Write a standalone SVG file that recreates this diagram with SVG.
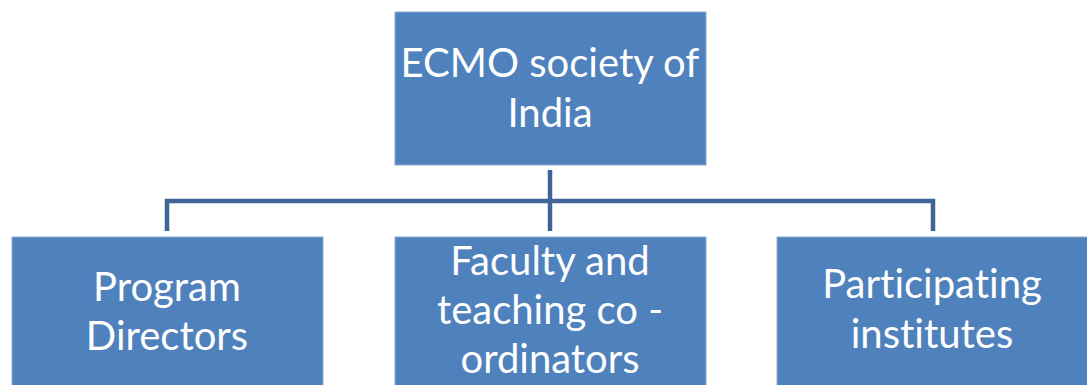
<svg xmlns="http://www.w3.org/2000/svg" width="1087" height="385" viewBox="0 0 1087 385">
<style>
.box{fill:#4F81BD;stroke:#8AA9D4;stroke-width:1}
.t{fill:#FFFFFF;font-family:Lato,"Open Sans","Liberation Sans",sans-serif;font-size:40px;text-anchor:middle;font-variant-ligatures:none;font-feature-settings:"liga" 0}
.c{fill:none;stroke:#3F6597;stroke-width:4.5}
</style>
<rect width="1087" height="385" fill="#FFFFFF"/>
<g id="connectors">
<path class="c" d="M550,170 V231"/>
<path class="c" d="M167,231 V201 H933 V231"/>
</g>
<g id="n0">
<rect class="box" x="395" y="12" width="311" height="153"/>
<text class="t" x="550" y="77">ECMO society of</text>
<text class="t" x="550" y="127">India</text>
</g>
<g id="n1">
<rect class="box" x="12" y="237" width="311" height="150"/>
<text class="t" x="167" y="301">Program</text>
<text class="t" x="167" y="350">Directors</text>
</g>
<g id="n2">
<rect class="box" x="395" y="237" width="311" height="150"/>
<text class="t" x="550" y="275">Faculty and</text>
<text class="t" x="550" y="324">teaching co -</text>
<text class="t" x="550" y="373">ordinators</text>
</g>
<g id="n3">
<rect class="box" x="777" y="237" width="312" height="150"/>
<text class="t" x="932" y="298">Participating</text>
<text class="t" x="932" y="348">institutes</text>
</g>
</svg>
